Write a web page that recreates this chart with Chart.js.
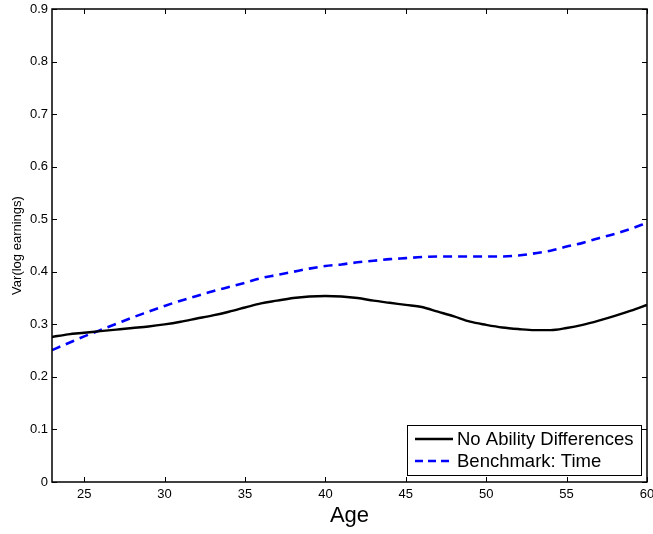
<!DOCTYPE html>
<html>
<head>
<meta charset="utf-8">
<script src="https://cdn.jsdelivr.net/npm/chart.js@4.4.1/dist/chart.umd.min.js"></script>
<style>
html,body{margin:0;padding:0;background:#fff;}
#wrap{width:653px;height:534px;position:relative;}
</style>
</head>
<body>
<div id="wrap"><canvas id="c" width="653" height="534"></canvas></div>
<script>
const ages = [23,24,25,26,27,28,29,30,31,32,33,34,35,36,37,38,39,40,41,42,43,44,45,46,47,48,49,50,51,52,53,54,55,56,57,58,59,60];
const noAbility = [0.276,0.281,0.284,0.287,0.290,0.293,0.296,0.300,0.305,0.311,0.317,0.324,0.332,0.340,0.345,0.350,0.353,0.354,0.353,0.350,0.345,0.341,0.337,0.333,0.324,0.315,0.305,0.299,0.294,0.291,0.289,0.289,0.293,0.299,0.307,0.316,0.326,0.337];
const benchmark = [0.251,0.264,0.277,0.289,0.301,0.313,0.324,0.335,0.345,0.354,0.363,0.371,0.379,0.388,0.394,0.400,0.406,0.411,0.414,0.418,0.421,0.424,0.426,0.428,0.429,0.429,0.429,0.429,0.429,0.431,0.435,0.440,0.448,0.455,0.464,0.472,0.482,0.493];
const xTicks = [25,30,35,40,45,50,55,60];
const yTicks = [0,0.1,0.2,0.3,0.4,0.5,0.6,0.7,0.8,0.9];
const seriesNames = ['No Ability Differences','Benchmark: Time'];
const xTitle = 'Age';
const yTitle = 'Var(log earnings)';

const FONT = '"Liberation Sans", Arial, Helvetica, sans-serif';

const framePlugin = {
  id: 'frame',
  afterDraw(chart) {
    const {ctx, chartArea: a, scales} = chart;
    const xs = scales.x, ys = scales.y;
    ctx.save();
    ctx.strokeStyle = '#000';
    ctx.lineWidth = 1;
    const tl = 5;
    ctx.beginPath();
    xTicks.forEach(v => {
      const px = Math.round(xs.getPixelForValue(v)) + 0.5;
      ctx.moveTo(px, a.bottom); ctx.lineTo(px, a.bottom - tl);
      ctx.moveTo(px, a.top); ctx.lineTo(px, a.top + tl);
    });
    yTicks.forEach(v => {
      const py = Math.round(ys.getPixelForValue(v)) + 0.5;
      ctx.moveTo(a.left, py); ctx.lineTo(a.left + tl, py);
      ctx.moveTo(a.right, py); ctx.lineTo(a.right - tl, py);
    });
    ctx.stroke();
    ctx.lineWidth = 1.5;
    ctx.strokeRect(a.left, a.top, a.right - a.left, a.bottom - a.top);

    // axis titles
    ctx.fillStyle = '#000';
    ctx.font = '22px ' + FONT;
    ctx.textAlign = 'center';
    ctx.textBaseline = 'middle';
    ctx.fillText(xTitle, (a.left + a.right) / 2, 516);
    ctx.save();
    ctx.translate(17, (a.top + a.bottom) / 2);
    ctx.rotate(-Math.PI / 2);
    ctx.font = '13px ' + FONT;
    ctx.fillText(yTitle, 0, 0);
    ctx.restore();

    // legend
    const bx = 407, by = 425, bw = 234, bh = 50;
    ctx.fillStyle = '#fff';
    ctx.fillRect(bx, by, bw, bh);
    ctx.lineWidth = 1;
    ctx.strokeStyle = '#000';
    ctx.strokeRect(bx + 0.5, by + 0.5, bw, bh);
    const rows = [439, 461];
    const styles = [{c:'#000', d:[]}, {c:'#0000ff', d:[8,5]}];
    rows.forEach((ry, i) => {
      ctx.beginPath();
      ctx.strokeStyle = styles[i].c;
      ctx.lineWidth = 2.5;
      ctx.setLineDash(styles[i].d);
      ctx.moveTo(415, ry); ctx.lineTo(453, ry);
      ctx.stroke();
      ctx.setLineDash([]);
      ctx.fillStyle = '#000';
      ctx.font = '18.5px ' + FONT;
      ctx.textAlign = 'left';
      ctx.textBaseline = 'middle';
      ctx.fillText(seriesNames[i], 457, ry + 1);
    });
    ctx.restore();
  }
};

new Chart(document.getElementById('c'), {
  type: 'line',
  data: {
    labels: ages,
    datasets: [
      {label: seriesNames[0], data: ages.map((a,i)=>({x:a,y:noAbility[i]})), borderColor:'#000', borderWidth:2.4, pointRadius:0, tension:0.4, cubicInterpolationMode:'monotone', fill:false},
      {label: seriesNames[1], data: ages.map((a,i)=>({x:a,y:benchmark[i]})), borderColor:'#0000ff', borderWidth:2.6, borderDash:[9,6], pointRadius:0, tension:0.4, cubicInterpolationMode:'monotone', fill:false}
    ]
  },
  options: {
    responsive: false,
    animation: false,
    devicePixelRatio: 1,
    layout: {padding: {top: 9, right: 6, left: 0, bottom: 0}},
    plugins: {legend: {display: false}, tooltip: {enabled: false}},
    scales: {
      x: {
        type: 'linear', min: 23, max: 60,
        afterFit(s) { s.height = 52; s.paddingLeft = 0; s.paddingRight = 0; },
        afterBuildTicks(s) { s.ticks = xTicks.map(v => ({value: v})); },
        grid: {display: false, drawTicks: false},
        border: {display: false},
        ticks: {color:'#000', font:{family: FONT, size: 13}, padding: 5, maxRotation: 0, autoSkip: false}
      },
      y: {
        type: 'linear', min: 0, max: 0.9,
        afterFit(s) { s.width = 52; s.paddingTop = 0; s.paddingBottom = 0; },
        afterBuildTicks(s) { s.ticks = yTicks.map(v => ({value: v})); },
        grid: {display: false, drawTicks: false},
        border: {display: false},
        ticks: {color:'#000', font:{family: FONT, size: 13}, padding: 4, autoSkip: false, callback: v => String(+v.toFixed(1))}
      }
    }
  },
  plugins: [framePlugin]
});
</script>
</body>
</html>
